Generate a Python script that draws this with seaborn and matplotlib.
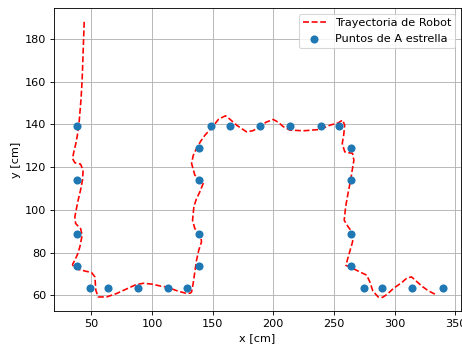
import matplotlib
matplotlib.use("Agg")
import matplotlib.pyplot as plt
import seaborn as sns
import pandas as pd

# trayectoria del robot (trazada de la figura)
robot_x = [44.1, 43.6, 43.0, 42.4, 41.5, 40.5, 39.7, 38.5, 37.2, 35.5, 34.5, 36.4,
           41.1, 43.2, 42.7, 41.0, 39.1, 37.5, 36.4, 37.0, 41.1, 42.4, 40.5, 38.5,
           36.4, 34.5, 35.6, 39.9, 45.0, 50.2, 52.9, 53.7, 55.6, 62.5, 70.8, 80.0,
           87.0, 93.0, 100.0, 107.0, 112.0, 120.0, 128.5, 131.5, 132.6, 133.9,
           135.3, 136.7, 138.5, 140.8, 140.0, 135.3, 133.4, 134.5, 136.5, 139.4,
           142.7, 135.3, 132.6, 134.0, 136.7, 140.0, 143.6, 147.0, 150.4, 155.0,
           160.6, 164.0, 170.0, 177.9, 183.0, 188.9, 194.0, 199.9, 204.0, 208.0,
           213.6, 225.0, 238.4, 246.6, 253.5, 257.1, 258.8, 258.0, 256.8, 258.9,
           265.3, 266.4, 265.0, 263.7, 261.5, 259.6, 258.4, 261.7, 265.8, 265.3,
           262.5, 259.8, 265.8, 271.0, 276.9, 279.6, 282.0, 286.4, 290.0, 294.0,
           298.8, 306.0, 310.0, 313.9, 318.0, 323.0, 328.0, 333.2]
robot_y = [188.0, 180.0, 170.0, 160.7, 152.0, 145.1, 139.6, 135.0, 131.0, 127.0,
           124.0, 122.0, 121.4, 118.5, 113.9, 109.0, 104.5, 100.0, 96.7, 93.6,
           91.2, 88.1, 82.6, 79.0, 76.4, 74.5, 72.8, 72.0, 71.3, 70.6, 68.6, 62.3,
           59.2, 59.2, 60.8, 63.2, 65.0, 65.6, 65.2, 64.3, 63.9, 62.2, 60.8, 61.0,
           61.5, 65.5, 71.0, 76.4, 81.0, 85.0, 88.1, 91.2, 95.1, 101.4, 105.0,
           108.4, 113.1, 116.2, 121.7, 125.5, 128.7, 132.0, 134.9, 137.0, 139.2,
           142.5, 144.0, 142.5, 139.5, 136.5, 137.0, 138.8, 141.0, 142.3, 141.0,
           139.0, 137.3, 137.0, 137.6, 139.6, 140.7, 142.0, 139.6, 135.0, 131.0,
           127.1, 126.4, 123.2, 118.5, 113.9, 107.5, 101.4, 95.1, 92.0, 88.9, 85.0,
           79.5, 74.0, 72.5, 71.0, 69.4, 66.2, 62.0, 59.2, 59.0, 60.5, 63.1, 66.0,
           68.0, 68.6, 66.5, 64.0, 62.0, 60.5]

# puntos de A estrella
astar_x = [38.5, 38.5, 38.5, 38.5, 48.5, 63.5, 88.5, 113.5, 129.0, 139.0, 139.0,
           139.0, 139.0, 149.0, 164.0, 189.0, 214.0, 239.5, 254.5, 264.0, 264.0,
           264.0, 264.0, 274.5, 289.5, 314.5, 339.5]
astar_y = [139.0, 114.0, 88.5, 73.5, 63.5, 63.5, 63.5, 63.5, 63.5, 73.5, 88.5,
           114.0, 129.0, 139.0, 139.0, 139.0, 139.0, 139.0, 139.0, 129.0, 114.0,
           88.5, 73.5, 63.5, 63.5, 63.5, 63.5]

df_robot = pd.DataFrame({"x": robot_x, "y": robot_y})
df_astar = pd.DataFrame({"x": astar_x, "y": astar_y})

plt.rcParams["font.size"] = 10.4

dpi = 78
fig, ax = plt.subplots(figsize=(462 / dpi, 350 / dpi), dpi=dpi)
sns.lineplot(data=df_robot, x="x", y="y", sort=False, estimator=None, ax=ax,
             color="red", linestyle="--", linewidth=1.5, label="Trayectoria de Robot")
sns.scatterplot(data=df_astar, x="x", y="y", ax=ax, color="#1f77b4", s=56,
                linewidth=0, label="Puntos de A estrella", zorder=3)

ax.set_xlabel("x [cm]")
ax.set_ylabel("y [cm]")
ax.set_xticks([50, 100, 150, 200, 250, 300, 350])
ax.set_yticks([60, 80, 100, 120, 140, 160, 180])
ax.grid(True)
ax.legend(loc="upper right")
fig.subplots_adjust(left=0.117, right=0.998, top=0.977, bottom=0.111)
fig.savefig("out.png", dpi=dpi)
